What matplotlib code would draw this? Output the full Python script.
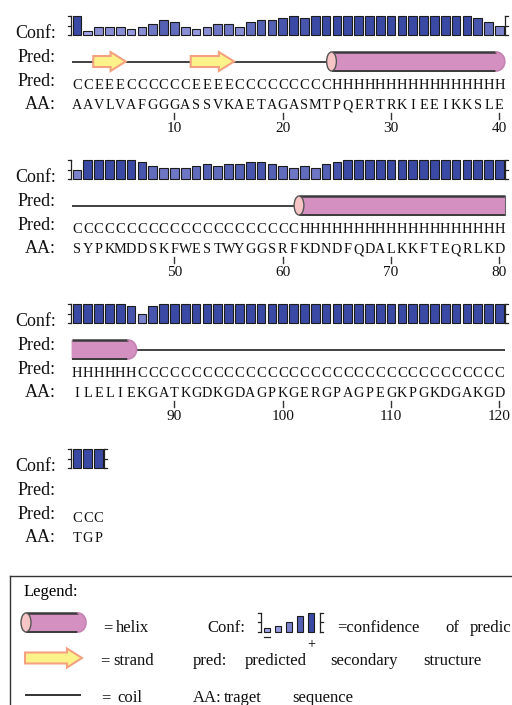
import matplotlib
matplotlib.use('Agg')
import matplotlib.pyplot as plt
import numpy as np
from matplotlib.patches import Polygon, Ellipse
from matplotlib.colors import LinearSegmentedColormap

# ---------------- data ----------------
aa_seq = ("AAVLVAFGGGASSVKAETAGASMTPQERTRKIEEIKKSLE"
          "SYPKMDDSKFWESTWYGGSRFKDNDFQDALKKFTEQRLKD"
          "ILELIEKGATKGDKGDAGPKGERGPAGPEGKPGKDGAKGD"
          "TGP")
pred_seq = ("CC" + "EEE" + "CCCCCC" + "EEEE" + "CCCCCCCCC" + "HHHHHHHHHHHHHHHH"
            + "CCCCCCCCCCCCCCCCCCCCC" + "HHHHHHHHHHHHHHHHHHH"
            + "HHHHHH" + "CCCCCCCCCCCCCCCCCCCCCCCCCCCCCCCCCC"
            + "CCC")
conf = [9, 1, 3, 3, 3, 2, 3, 5, 7, 6, 3, 2, 3, 5, 5, 3, 6, 7, 7, 8,
        9, 8, 9, 9, 9, 9, 9, 9, 9, 9, 9, 9, 9, 9, 9, 9, 9, 8, 6, 4,
        4, 9, 9, 9, 9, 9, 8, 6, 5, 5, 5, 6, 7, 6, 7, 7, 8, 8, 7, 6,
        5, 6, 5, 7, 8, 9, 9, 9, 9, 9, 9, 9, 9, 9, 9, 9, 9, 9, 9, 9,
        9, 9, 9, 9, 9, 8, 4, 8, 9, 9, 9, 9, 9, 9, 9, 9, 9, 9, 9, 9,
        9, 9, 9, 9, 9, 9, 9, 9, 9, 9, 9, 9, 9, 9, 9, 9, 9, 9, 9, 9,
        9, 9, 9]
legend_conf = [1, 2, 4, 7, 9]
row_labels = ["Conf:", "Pred:", "Pred:", "AA:"]

# ---------------- style / layout ----------------
W, H = 512, 705
PER_ROW = 40
PX = 10.83          # pixels per residue
X1 = 77.0           # pixel centre of first residue in a row
ROW_Y0 = [35, 179, 323, 468]
FONT = 'Liberation Serif'
HELIX = '#D490C0'
CAP = '#F7C5C5'
STRAND_FC = '#FBF38A'
STRAND_EC = '#F4A17F'
cmap = LinearSegmentedColormap.from_list('conf', ['#b0b0ee', '#3a4aa4'])
BAR_H = 19.0

fig = plt.figure(figsize=(W / 100, H / 100), dpi=100)
ax = fig.add_axes([0, 0, 1, 1])
ax.set_xlim((0 - X1) / PX + 1, (W - X1) / PX + 1)
ax.set_ylim(H, 0)
ax.axis('off')
lg = fig.add_axes([0, 0, 1, 1])
lg.set_xlim(0, W)
lg.set_ylim(H, 0)
lg.axis('off')
lg.patch.set_alpha(0)


def draw_helix(a, x0, x1, yc, hh, rx, capw, cap_left, round_right):
    t = np.linspace(-np.pi / 2, np.pi / 2, 40)
    if round_right:
        xs = np.concatenate([[x0], (x1 - rx) + rx * np.cos(t), [x0]])
        ys = np.concatenate([[yc - hh], yc + hh * np.sin(t), [yc + hh]])
        xe = x1 - rx
    else:
        xs = np.array([x0, x1, x1, x0])
        ys = np.array([yc - hh, yc - hh, yc + hh, yc + hh])
        xe = x1
    a.add_patch(Polygon(np.column_stack([xs, ys]), closed=True,
                        facecolor=HELIX, edgecolor='none', zorder=3))
    a.plot([x0, xe], [yc - hh, yc - hh], color='#3a3a3a', lw=1.8, zorder=4,
           solid_capstyle='butt')
    a.plot([x0, xe], [yc + hh, yc + hh], color='#3a3a3a', lw=1.4, zorder=4,
           solid_capstyle='butt')
    if round_right:
        a.plot((x1 - rx) + rx * np.cos(t), yc + hh * np.sin(t),
               color='#c583b2', lw=1.2, zorder=4)
    else:
        a.plot([x1, x1], [yc - hh, yc + hh], color='#666666', lw=0.8, zorder=4)
    if cap_left:
        a.add_patch(Ellipse((x0, yc), capw, 2 * hh, facecolor=CAP,
                            edgecolor='#555555', lw=1.0, zorder=5))


def draw_strand(a, x0, x1, yc, hs, hd, hl):
    pts = [(x0, yc - hs), (x1 - hl, yc - hs), (x1 - hl, yc - hd), (x1, yc),
           (x1 - hl, yc + hd), (x1 - hl, yc + hs), (x0, yc + hs)]
    a.add_patch(Polygon(pts, closed=True, facecolor=STRAND_FC,
                        edgecolor=STRAND_EC, lw=1.5, joinstyle='miter', zorder=3))


def bracket(a, x, ybot, h, direction, tick):
    a.plot([x, x], [ybot, ybot - h], color='#222222', lw=0.9, zorder=4)
    for yy in (ybot, ybot - h / 2, ybot - h):
        a.plot([x, x + direction * tick], [yy, yy], color='#222222', lw=0.9, zorder=4)


N = len(aa_seq)
nrows = (N + PER_ROW - 1) // PER_ROW
for r in range(nrows):
    s = r * PER_ROW
    e = min(s + PER_ROW, N)
    n = e - s
    y0 = ROW_Y0[r]
    idx = np.arange(1, n + 1)
    c = np.array(conf[s:e], dtype=float)
    hts = (c + 1) / 10 * BAR_H
    ax.bar(idx, -hts, bottom=y0, width=0.8, color=cmap(c / 9),
           edgecolor='#1c1c1c', linewidth=0.8, zorder=3)
    bracket(ax, 0.45, y0, BAR_H, -1, 0.28)
    bracket(ax, n + 0.5, y0, BAR_H, 1, 0.28)

    # labels
    for lab, yb in zip(row_labels, [y0 + 3, y0 + 27, y0 + 51, y0 + 74]):
        lg.text(56, yb, lab, ha='right', va='baseline', fontsize=13,
                family=FONT, color='#111111')

    # secondary-structure cartoon
    yp = y0 + 26.5
    segs = []
    i = s
    while i < e:
        j = i
        while j + 1 < e and pred_seq[j + 1] == pred_seq[i]:
            j += 1
        segs.append((pred_seq[i], i, j))
        i = j + 1
    for typ, a0, b0 in segs:
        xa = a0 - s + 1 - 0.5
        xb = b0 - s + 1 + 0.5
        if typ == 'C':
            if n == PER_ROW:
                ax.plot([xa, xb], [yp, yp], color='#333333', lw=1.3, zorder=2,
                        solid_capstyle='butt')
        elif typ == 'E':
            draw_strand(ax, xa, xb, yp, 5.5, 9.5, 1.4)
        elif typ == 'H':
            cap_left = (a0 == 0) or (pred_seq[a0 - 1] != 'H')
            round_right = (b0 + 1 >= N) or (pred_seq[b0 + 1] != 'H')
            draw_helix(ax, xa, xb, yp, 9.5, 0.8, 0.9, cap_left, round_right)

    # sequences
    for k in range(n):
        ax.text(k + 1, y0 + 54, pred_seq[s + k], ha='center', va='baseline',
                fontsize=10.5, family=FONT, color='#111111')
        ax.text(k + 1, y0 + 74, aa_seq[s + k], ha='center', va='baseline',
                fontsize=10.3, family=FONT, color='#111111')
        num = s + k + 1
        if num % 10 == 0:
            ax.plot([k + 1, k + 1], [y0 + 78, y0 + 84], color='#333333', lw=1.0)
            ax.text(k + 1, y0 + 97, str(num), ha='center', va='baseline',
                    fontsize=11, family=FONT, color='#111111')

# ---------------- legend ----------------
lg.plot([10, 10], [576, H + 5], color='#333333', lw=1.0)
lg.plot([10, W + 5], [576, 576], color='#333333', lw=1.0)
LFS = 12
lg.text(24, 596, "Legend:", fontsize=LFS, family=FONT, va='baseline')

draw_helix(lg, 26, 86, 622.5, 9.5, 8, 10, True, True)
draw_strand(lg, 25, 82, 658, 5.5, 9.5, 15)
lg.plot([26, 80], [695, 695], color='#333333', lw=1.4)

words = [(103, 632, "="), (116, 632, "helix"),
         (207, 632, "Conf:"), (337, 632, "=confidence"), (445, 632, "of"),
         (470, 632, "predic"),
         (100, 665, "="), (113, 665, "strand"), (193, 665, "pred:"),
         (245, 665, "predicted"), (330, 665, "secondary"), (423, 665, "structure"),
         (101, 702, "="), (117, 702, "coil"), (193, 702, "AA:"),
         (224, 702, "traget"), (292, 702, "sequence")]
for x, y, w in words:
    lg.text(x, y, w, fontsize=LFS, family=FONT, va='baseline', ha='left',
            color='#111111')

# mini confidence scale
lc = np.array(legend_conf, dtype=float)
lx = 267 + 11 * np.arange(len(lc))
lg.bar(lx, -(lc + 1) / 10 * BAR_H, bottom=631.5, width=5.5, color=cmap(lc / 9),
       edgecolor='#1c1c1c', linewidth=0.8, zorder=3)
bracket(lg, 261, 631.5, BAR_H, -1, 3)
bracket(lg, 320, 631.5, BAR_H, 1, 3)
lg.plot([lx[0] - 3, lx[0] + 3], [637, 637], color='#222222', lw=0.9)
lg.text(lx[-1], 645, "+", ha='center', va='center', fontsize=10,
        family=[FONT, 'DejaVu Sans'])

fig.savefig('out.png', dpi=100)
